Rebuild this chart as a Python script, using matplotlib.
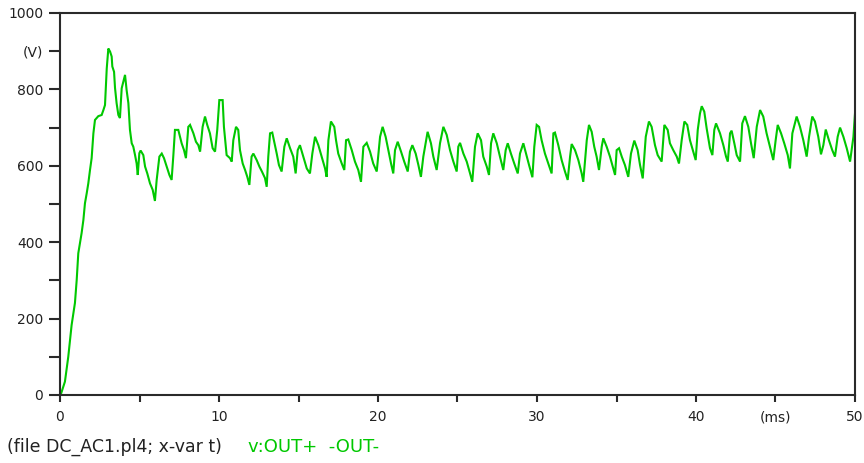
import matplotlib
matplotlib.use("Agg")
import matplotlib.pyplot as plt

# Output voltage v:OUT+ -OUT- versus time (ms)
t_ms = [
    0.04, 0.31, 0.52, 0.73, 0.94, 1.05, 1.15, 1.36, 1.47, 1.57, 1.68, 1.78, 1.89, 1.99,
    2.10, 2.20, 2.41, 2.62, 2.73, 2.83, 2.94, 3.04, 3.15, 3.25, 3.29, 3.40, 3.46, 3.56,
    3.67, 3.77, 3.88, 4.09, 4.19, 4.30, 4.40, 4.51, 4.61, 4.72, 4.82, 4.89, 4.99, 5.07,
    5.24, 5.35, 5.49, 5.66, 5.83, 5.97, 6.08, 6.25, 6.40, 6.54, 6.71, 6.88, 7.02, 7.13,
    7.23, 7.44, 7.65, 7.80, 7.92, 8.07, 8.18, 8.39, 8.55, 8.70, 8.81, 8.97, 9.12, 9.26,
    9.43, 9.60, 9.75, 9.89, 10.02, 10.23, 10.31, 10.48, 10.69, 10.80, 10.90, 11.07, 11.21,
    11.32, 11.49, 11.64, 11.78, 11.91, 12.05, 12.16, 12.37, 12.54, 12.70, 12.89, 13.00,
    13.10, 13.21, 13.35, 13.52, 13.63, 13.77, 13.94, 14.11, 14.26, 14.47, 14.67, 14.82,
    14.95, 15.09, 15.30, 15.52, 15.72, 15.87, 16.04, 16.25, 16.46, 16.67, 16.77, 16.88,
    17.04, 17.25, 17.36, 17.50, 17.72, 17.88, 17.99, 18.13, 18.35, 18.55, 18.76, 18.93,
    19.08, 19.29, 19.50, 19.70, 19.92, 20.13, 20.29, 20.48, 20.65, 20.82, 20.96, 21.07,
    21.24, 21.45, 21.65, 21.87, 22.01, 22.16, 22.37, 22.54, 22.70, 22.85, 23.12, 23.33,
    23.48, 23.69, 23.90, 24.11, 24.32, 24.53, 24.74, 24.95, 25.05, 25.16, 25.37, 25.58,
    25.79, 25.93, 26.10, 26.27, 26.48, 26.62, 26.84, 26.98, 27.11, 27.25, 27.47, 27.67,
    27.88, 28.03, 28.16, 28.36, 28.57, 28.79, 28.93, 29.14, 29.31, 29.50, 29.71, 29.83,
    29.98, 30.13, 30.29, 30.50, 30.71, 30.92, 31.03, 31.13, 31.34, 31.55, 31.76, 31.93,
    32.08, 32.18, 32.39, 32.60, 32.81, 32.91, 33.13, 33.27, 33.44, 33.60, 33.75, 33.90,
    34.07, 34.17, 34.38, 34.59, 34.80, 34.91, 35.01, 35.16, 35.33, 35.53, 35.74, 35.91,
    36.12, 36.33, 36.48, 36.65, 36.84, 37.04, 37.21, 37.42, 37.59, 37.84, 38.01, 38.22,
    38.36, 38.57, 38.79, 38.93, 39.10, 39.27, 39.45, 39.62, 39.83, 39.98, 40.11, 40.25,
    40.36, 40.52, 40.67, 40.88, 41.03, 41.15, 41.26, 41.51, 41.72, 41.89, 42.00, 42.14,
    42.24, 42.41, 42.56, 42.77, 42.91, 43.08, 43.29, 43.46, 43.63, 43.82, 44.03, 44.23,
    44.44, 44.65, 44.86, 45.01, 45.14, 45.35, 45.55, 45.77, 45.91, 46.06, 46.33, 46.54,
    46.75, 46.96, 47.11, 47.31, 47.48, 47.69, 47.86, 48.01, 48.16, 48.36, 48.57, 48.74,
    48.91, 49.06, 49.27, 49.48, 49.69, 49.90, 50.00,
]
v_out = [
    0, 35, 100, 183, 241, 301, 371, 424, 458, 502, 528, 554, 590, 620,
    685, 720, 730, 733, 746, 759, 855, 907, 899, 886, 860, 846, 804, 764,
    733, 725, 803, 838, 798, 764, 694, 659, 650, 628, 606, 576, 633, 640,
    628, 598, 580, 554, 537, 508, 563, 624, 632, 620, 598, 576, 563, 628,
    694, 694, 659, 641, 620, 702, 707, 685, 663, 654, 637, 702, 729, 707,
    685, 646, 637, 694, 772, 772, 702, 628, 620, 611, 667, 702, 694,
    641, 606, 589, 571, 550, 624, 632, 615, 598, 585, 568, 545,
    624, 685, 687, 654, 632, 602, 585, 650, 672, 646, 624, 580,
    641, 654, 624, 593, 580, 632, 676, 654, 624, 593, 571, 667,
    716, 702, 667, 632, 606, 589, 667, 669, 641, 611, 589, 558,
    650, 660, 637, 606, 585, 676, 702, 676, 641, 606, 580, 641,
    663, 637, 611, 585, 637, 654, 632, 602, 571, 624, 689, 659,
    624, 589, 659, 702, 681, 641, 611, 585, 650, 660, 632, 611,
    580, 558, 650, 685, 667, 624, 598, 576, 659, 685, 659, 624,
    589, 641, 659, 632, 606, 580, 632, 659, 632, 602, 570, 650,
    707, 702, 667, 632, 606, 580, 685, 687, 654, 615, 585, 563,
    624, 657, 641, 615, 580, 558, 667, 707, 689, 650, 624, 589,
    650, 672, 650, 624, 593, 576, 641, 646, 624, 602, 571, 632,
    666, 641, 602, 567, 676, 716, 702, 654, 628, 611, 707, 694,
    659, 641, 624, 606, 667, 716, 707, 667, 637, 615, 694, 737,
    756, 742, 698, 646, 628, 694, 711, 685, 654, 624, 611, 685,
    692, 659, 628, 611, 711, 730, 702, 659, 620, 702, 746, 729,
    685, 650, 615, 667, 707, 685, 659, 628, 593, 685, 729, 702,
    667, 624, 676, 729, 716, 676, 630, 654, 695, 667, 641, 624,
    676, 700, 676, 646, 611, 676, 737,
]

y_ticks = [0, 100, 200, 300, 400, 500, 600, 700, 800, 900, 1000]
y_tick_labels = ["0", "", "200", "", "400", "", "600", "", "800", "(V)", "1000"]
x_ticks = [0, 5, 10, 15, 20, 25, 30, 35, 40, 45, 50]
x_tick_labels = ["0", "", "10", "", "20", "", "30", "", "40", "(ms)", "50"]

trace_color = "#00c800"
axis_color = "#2a2a2a"

plt.rcParams["font.family"] = ["DejaVu Sans"]

fig = plt.figure(figsize=(8.64, 4.63), dpi=100)
ax = fig.add_axes([60 / 864, 68 / 463, 795 / 864, 382 / 463])

ax.plot(t_ms, v_out, color=trace_color, linewidth=1.5, solid_joinstyle="miter")

ax.set_xlim(0, 50)
ax.set_ylim(0, 1000)
ax.set_xticks(x_ticks)
ax.set_xticklabels(x_tick_labels)
ax.set_yticks(y_ticks)
ax.set_yticklabels(y_tick_labels)

for side in ["left", "bottom", "top", "right"]:
    ax.spines[side].set_color(axis_color)
    ax.spines[side].set_linewidth(1.5)

ax.tick_params(axis="y", direction="out", length=8, width=1.5, pad=4,
               colors=axis_color, labelsize=10, labelcolor="#222222")
ax.tick_params(axis="x", direction="out", length=5, width=1.5, pad=6,
               colors=axis_color, labelsize=10, labelcolor="#222222")

fig.text(7 / 864, 1 - 447 / 463, "(file DC_AC1.pl4; x-var t)", fontsize=12.5,
         color="#222222", va="center", ha="left")
fig.text(248 / 864, 1 - 447 / 463, "v:OUT+  -OUT-", fontsize=13,
         color=trace_color, va="center", ha="left")

fig.savefig("out.png", dpi=100)
